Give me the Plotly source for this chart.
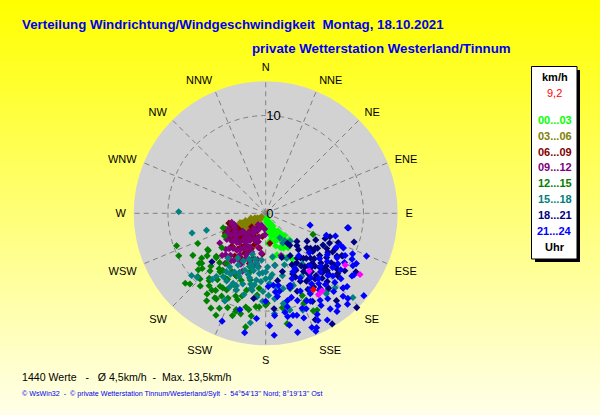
import plotly.graph_objects as go

W, H = 600, 415

# hour ranges as shown in the legend box
hour_labels = ["00...03", "03...06", "06...09", "09...12", "12...15", "15...18", "18...21", "21...24"]
hour_colors = ["#00FF00", "#808000", "#800000", "#800080", "#008000", "#008080", "#000080", "#0000FF"]

compass = ["N", "NNE", "NE", "ENE", "E", "ESE", "SE", "SSE",
           "S", "SSW", "SW", "WSW", "W", "WNW", "NW", "NNW"]
compass_deg = [i * 22.5 for i in range(16)]

# wind direction (deg) / wind speed (km/h)
g00_dir = [160, 165, 170, 155, 150, 158, 162, 168, 172, 175, 145, 150, 152, 148, 155, 160, 163, 157, 153, 149,
           140, 145, 170, 178, 180, 175, 165, 158, 150, 147, 155, 160, 152, 143, 138, 162, 166, 171, 154, 151]
g00_spd = [0.5, 0.8, 1.0, 1.2, 1.5, 1.8, 2.0, 2.2, 1.5, 0.9, 2.5, 2.8, 3.0, 3.2, 2.6, 2.4, 3.5, 3.8, 4.0, 3.4,
           3.0, 2.2, 2.8, 1.8, 0.6, 3.1, 4.4, 4.8, 5.4, 4.2, 1.1, 1.4, 2.0, 2.6, 3.6, 3.0, 2.4, 4.6, 5.0, 3.7]

g03_dir = [230, 235, 240, 225, 220, 245, 238, 232, 228, 215, 210, 242, 248, 236, 226,
           218, 205, 232, 240, 222, 212, 235, 244, 228, 238, 230, 250, 246, 220, 200,
           252, 247, 243, 239, 234, 229, 250, 241, 236, 233]
g03_spd = [0.6, 1.0, 1.4, 1.2, 1.8, 2.0, 2.4, 2.8, 2.2, 1.6, 2.4, 2.9, 2.6, 1.8, 2.6,
           3.0, 2.5, 1.5, 1.0, 0.9, 3.2, 3.2, 1.7, 3.4, 2.0, 2.2, 2.2, 3.1, 2.4, 1.4,
           1.6, 1.2, 2.2, 1.9, 2.6, 2.7, 2.8, 2.5, 1.4, 0.8]

g06_dir = [250, 248, 245, 240, 235, 230, 225, 220, 215, 210, 205, 200, 195, 190, 252,
           246, 238, 232, 226, 218, 212, 206, 198, 188, 242, 236, 228, 222, 214, 208,
           202, 255, 244, 233, 224, 216, 204, 196, 230, 210, 220, 210, 185, 192, 172,
           228, 232, 236, 240, 244, 224, 220, 216, 212, 248, 230, 238, 226, 218, 208]
g06_spd = [3.6, 3.4, 4.0, 3.2, 3.3, 3.5, 4.8, 3.3, 4.2, 5.2, 4.3, 3.4, 3.0, 3.6, 3.8,
           4.2, 3.6, 4.4, 5.0, 2.7, 3.8, 2.0, 5.4, 2.4, 4.6, 3.8, 3.0, 4.0, 2.9, 4.6,
           3.9, 3.9, 3.4, 4.2, 3.5, 5.4, 2.8, 4.8, 3.6, 1.8, 2.2, 3.0, 4.2, 5.4, 3.1,
           3.4, 3.0, 4.4, 3.8, 4.6, 4.0, 2.6, 3.6, 2.4, 4.4, 4.4, 4.6, 2.0, 4.6, 2.6]

g09_dir = [252, 247, 240, 214, 230, 226, 223, 220, 215, 210, 205, 202, 200, 195, 190, 186,
           182, 245, 218, 228, 218, 212, 208, 198, 192, 250, 242, 232, 224, 216, 206, 196,
           236, 222, 214, 204, 188, 204, 212, 211, 199, 184, 255, 237, 219, 207, 160, 170,
           215, 220, 225, 230, 235, 210, 205, 212, 218, 228, 222, 200, 196, 208, 232, 238,
           242, 226, 214, 204]
g09_spd = [3.6, 4.2, 3.6, 1.4, 4.0, 6.2, 4.9, 5.6, 4.5, 6.9, 3.8, 6.4, 4.2, 3.0, 4.8, 4.1,
           2.2, 3.5, 2.0, 5.5, 3.2, 5.0, 4.0, 5.2, 3.6, 3.4, 4.6, 3.0, 5.9, 6.0, 5.8, 2.5,
           4.8, 4.0, 3.6, 2.9, 5.5, 1.8, 2.4, 2.2, 1.3, 1.6, 3.6, 5.6, 6.6, 7.0, 4.6, 5.4,
           3.0, 3.5, 4.2, 4.5, 3.8, 3.2, 4.6, 4.2, 4.8, 3.0, 2.6, 3.0, 5.4, 5.6, 3.4, 4.2,
           4.4, 5.2, 5.8, 5.0]

g12_dir = [250, 244, 229, 227, 233, 238, 229, 206, 210, 213, 216, 217, 207, 197, 190, 198, 194, 186, 186, 179,
           185, 193, 205, 218, 223, 218, 201, 200, 241, 150, 114, 157, 152, 154, 156, 170, 169, 210, 197, 211,
           229, 225, 215, 210, 204, 184, 180, 237, 251, 232, 228, 232, 221, 220, 210, 212, 227, 162, 155, 195,
           200, 204, 208, 212, 216, 220, 224, 196, 192, 188, 202, 206, 214, 222, 226, 230, 234, 198, 194, 190,
           210, 218, 235, 240, 246]
g12_spd = [9.7, 9.9, 10.9, 10.6, 8.5, 7.0, 6.7, 11.6, 10.1, 9.4, 8.4, 7.3, 8.8, 10.3, 11.8, 9.3, 8.1, 9.6, 8.4, 9.2,
           7.7, 7.0, 7.1, 6.5, 6.9, 7.6, 8.4, 7.3, 4.8, 6.0, 5.3, 10.0, 11.2, 11.1, 9.2, 9.8, 11.5, 11.2, 10.5, 10.1,
           8.6, 9.5, 9.6, 8.8, 9.5, 9.6, 9.4, 7.0, 4.6, 5.7, 6.8, 8.3, 8.8, 7.4, 6.9, 7.8, 9.5, 8.1, 9.8, 6.2,
           9.0, 8.0, 9.6, 8.8, 10.2, 9.0, 8.2, 8.8, 9.8, 10.6, 10.4, 10.8, 10.8, 10.0, 7.8, 9.0, 7.4, 11.0, 10.6, 10.0,
           7.8, 9.4, 8.0, 8.6, 7.6]

g15_dir = [271, 255, 254, 230, 219, 205, 214, 205, 188, 194, 183, 175, 171, 150, 139, 197, 188, 214, 177, 144,
           141, 134, 166, 159, 169, 150, 227, 205, 168, 189, 191, 201, 150, 145, 155, 152, 170, 180, 143, 137,
           167, 159, 200, 208, 196, 190, 185, 212, 203, 192, 186, 178, 198, 210, 220, 182, 195, 174, 165, 160,
           188, 192, 196, 200, 204, 208, 184, 180, 176, 172, 190, 194, 198, 202, 206, 186, 182, 178, 174, 210,
           214, 218, 193, 199, 205]
g15_spd = [8.9, 7.8, 6.3, 9.9, 8.7, 9.8, 7.8, 7.9, 11.3, 5.6, 6.1, 10.3, 4.5, 3.5, 3.8, 5.7, 6.9, 6.6, 7.2, 6.4,
           10.1, 12.4, 10.2, 10.6, 9.4, 7.4, 9.6, 9.9, 9.5, 7.4, 7.8, 8.4, 2.9, 3.4, 5.1, 6.0, 5.4, 6.7, 10.3, 10.4,
           7.9, 7.9, 5.0, 6.0, 6.5, 5.2, 4.8, 5.4, 7.0, 7.4, 6.2, 5.5, 4.4, 7.2, 6.0, 8.0, 8.6, 6.3, 6.6, 5.6,
           5.6, 6.0, 5.4, 6.2, 6.6, 6.8, 7.0, 6.0, 6.6, 7.6, 8.0, 6.8, 7.6, 8.0, 8.4, 8.6, 9.0, 8.4, 8.8, 8.0,
           7.2, 8.2, 4.8, 5.0, 5.4]

g18_dir = [145, 131, 119, 126, 128, 141, 147, 153, 134, 100, 110, 113, 124, 143, 137, 134, 120, 119, 149, 138,
           144, 164, 153, 162, 132, 144, 119, 136, 149, 188, 228, 130, 135, 140, 128, 122, 146, 150, 138, 133,
           127, 142, 156, 118, 125, 139, 131, 147, 158, 115, 160, 136, 152, 126, 170, 141, 123, 155, 108, 175,
           129, 133, 137, 141, 145, 124, 120, 117, 127, 131, 135, 139, 143, 148, 152, 121, 126, 130, 134, 138,
           142, 146, 151, 155, 128, 132, 136, 140, 144, 112]
g18_spd = [5.6, 6.0, 6.7, 7.7, 9.2, 8.2, 7.1, 7.8, 11.0, 8.5, 7.0, 6.6, 5.1, 4.1, 7.0, 8.1, 7.9, 8.9, 8.1, 9.4,
           9.5, 6.2, 5.9, 7.8, 4.3, 3.8, 9.0, 13.4, 13.2, 8.8, 7.4, 5.5, 6.5, 6.0, 7.0, 7.5, 6.5, 5.0, 5.0, 8.6,
           8.4, 7.6, 6.8, 5.8, 6.2, 8.8, 9.8, 9.0, 8.6, 7.2, 4.8, 4.6, 10.2, 10.0, 7.0, 11.5, 11.0, 12.0, 9.5, 9.8,
           6.2, 6.8, 7.4, 6.9, 7.5, 6.4, 7.2, 8.0, 8.8, 8.2, 7.8, 7.2, 8.4, 6.0, 6.6, 8.5, 9.0, 9.6, 9.0, 6.2,
           5.8, 8.0, 8.9, 7.2, 5.8, 7.6, 8.4, 10.0, 6.8, 8.0]

g21_dir = [105, 113, 119, 126, 137, 132, 156, 153, 170, 174, 155, 140, 130, 113, 114, 165, 178, 202, 168, 158,
           157, 150, 142, 136, 125, 130, 100, 110, 163, 168, 172, 178, 156, 169, 165, 173, 170, 145, 150, 160,
           148, 140, 135, 128, 122, 162, 158, 166, 152, 144, 138, 146, 175, 180, 185, 160, 118, 108, 132, 176,
           195, 190, 152, 142, 134,
           118, 122, 127, 131, 135, 139, 143, 147, 151, 155, 159, 163, 167, 115, 121, 125, 129, 133, 137, 141,
           145, 149, 153, 157, 161, 116, 124, 134, 144, 154]
g21_spd = [4.7, 11.2, 10.6, 10.9, 11.6, 11.2, 8.7, 10.1, 8.1, 7.4, 6.6, 7.0, 7.2, 8.3, 8.7, 12.6, 11.5, 11.9, 11.7, 12.6,
           13.1, 12.6, 12.0, 12.1, 11.0, 13.1, 8.6, 6.6, 10.9, 10.8, 8.6, 7.5, 12.8, 10.3, 10.8, 8.1, 7.5, 8.0, 9.0, 9.5,
           10.5, 9.5, 9.0, 8.0, 9.5, 8.0, 7.2, 9.2, 7.5, 10.8, 12.5, 11.8, 10.5, 9.0, 10.8, 11.4, 10.0, 7.5, 6.0, 12.5,
           10.2, 12.4, 6.4, 5.5, 7.8,
           9.2, 8.6, 9.6, 10.2, 10.0, 10.6, 9.0, 8.6, 9.4, 9.9, 10.4, 9.0, 9.8, 9.8, 10.4, 9.0, 8.8, 9.4, 8.2, 8.6,
           9.6, 11.0, 11.6, 10.6, 7.8, 8.0, 7.6, 11.0, 12.4, 12.2]

# last values (magenta) and the current value (red)
last_dir = [123, 123, 144, 147, 143]
last_spd = [9.7, 11.5, 9.8, 9.9, 7.4]
now_dir = [148]
now_spd = [9.2]

dirs = [g00_dir, g03_dir, g06_dir, g09_dir, g12_dir, g15_dir, g18_dir, g21_dir]
spds = [g00_spd, g03_spd, g06_spd, g09_spd, g12_spd, g15_spd, g18_spd, g21_spd]

msize = 5.5

fig = go.Figure()
for lab, col, d, s in zip(hour_labels, hour_colors, dirs, spds):
    fig.add_trace(go.Scatterpolar(theta=d, r=s, mode="markers", name=lab, hoverinfo="skip",
                                  marker=dict(symbol="diamond", size=msize, color=col)))
fig.add_trace(go.Scatterpolar(theta=last_dir, r=last_spd, mode="markers", hoverinfo="skip",
                              marker=dict(symbol="diamond", size=msize, color="#FF00FF")))
fig.add_trace(go.Scatterpolar(theta=now_dir, r=now_spd, mode="markers", hoverinfo="skip",
                              marker=dict(symbol="diamond", size=msize, color="#FF0000")))


def px(x, y):
    return x / W, 1 - y / H


shapes = []
# yellow gradient background
n = 83
for i in range(n):
    b = int(round(232 * i / (n - 1)))
    shapes.append(dict(type="rect", xref="paper", yref="paper", layer="below",
                       x0=0, x1=1, y0=1 - (i + 1) / n, y1=1 - i / n,
                       fillcolor="rgb(255,255,%d)" % b, line=dict(width=0)))

# legend box with shadow
sx0, sy0 = px(535, 70)
sx1, sy1 = px(580, 262)
shapes.append(dict(type="rect", xref="paper", yref="paper", x0=sx0, x1=sx1, y0=sy1, y1=sy0,
                   fillcolor="black", line=dict(width=0)))
bx0, by0 = px(531.5, 66.5)
bx1, by1 = px(577, 259)
shapes.append(dict(type="rect", xref="paper", yref="paper", x0=bx0, x1=bx1, y0=by1, y1=by0,
                   fillcolor="white", line=dict(color="black", width=1)))

ann = []


def text(x, y, s, size=11, color="black", bold=False, xanchor="left"):
    ax, ay = px(x, y)
    ann.append(dict(x=ax, y=ay, xref="paper", yref="paper", text="<b>%s</b>" % s if bold else s,
                    showarrow=False, xanchor=xanchor, yanchor="middle",
                    font=dict(family="Liberation Sans, Arial", size=size, color=color)))


text(20, 25, "Verteilung Windrichtung/Windgeschwindigkeit  Montag, 18.10.2021", 13.3, "#0000F0", True)
text(250, 49, "private Wetterstation Westerland/Tinnum", 13.3, "#0000F0", True)
text(20, 377, "1440 Werte   -   Ø 4,5km/h  -  Max. 13,5km/h", 10.6)
text(20, 394, "© WsWin32  -  © private Wetterstation Tinnum/Westerland/Sylt  -  54°54'13'' Nord; 8°19'13'' Ost",
     7.15, "#0000F0")

text(554.5, 77, "km/h", 11, "black", True, "center")
text(554.5, 93, "9,2", 11, "red", False, "center")
for i, (lab, col) in enumerate(zip(hour_labels, hour_colors)):
    text(554.5, 120 + i * 15.8, lab, 11, col, True, "center")
text(554.5, 247, "Uhr", 11, "black", True, "center")

cx, cy, rad = 265.7, 213.3, 132
fig.update_layout(
    width=W, height=H, autosize=False, margin=dict(l=0, r=0, t=0, b=0),
    paper_bgcolor="#FFFF00", showlegend=False,
    shapes=shapes, annotations=ann,
    polar=dict(
        domain=dict(x=[(cx - rad) / W, (cx + rad) / W], y=[1 - (cy + rad) / H, 1 - (cy - rad) / H]),
        bgcolor="#D2D2D2",
        angularaxis=dict(rotation=90, direction="clockwise", tickmode="array",
                         tickvals=compass_deg, ticktext=compass, showline=False,
                         gridcolor="#808080", griddash="5px,4px", gridwidth=1,
                         ticks="outside", ticklen=5, tickcolor="rgba(0,0,0,0)",
                         tickfont=dict(family="Liberation Sans, Arial", size=11, color="black")),
        radialaxis=dict(range=[0, 13.5], tickmode="array", tickvals=[0, 10], ticktext=["0", "10"],
                        angle=90, tickangle=90, showline=False, ticks="",
                        gridcolor="#808080", griddash="5px,4px", gridwidth=1,
                        tickfont=dict(family="Liberation Sans, Arial", size=13, color="black")),
    ),
)

fig.write_html("out.html", config={"displayModeBar": False},
               post_script="document.body.style.margin='0';")
